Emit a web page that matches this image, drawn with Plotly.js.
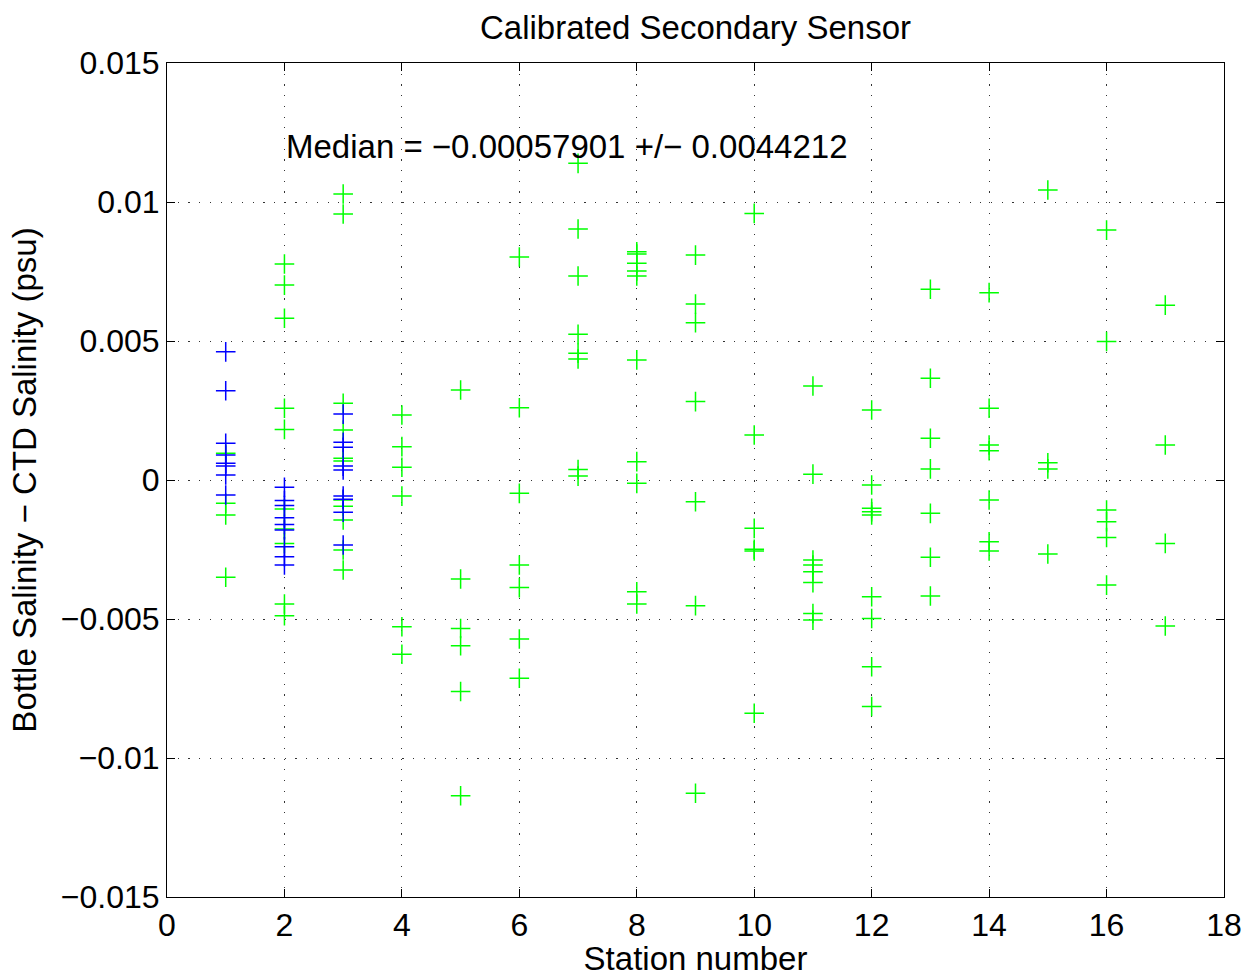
<!DOCTYPE html>
<html>
<head>
<meta charset="utf-8">
<script src="https://cdn.plot.ly/plotly-3.0.1.min.js"></script>
<style>html,body{margin:0;padding:0;background:#fff;}#chart{width:1255px;height:977px;}</style>
</head>
<body>
<div id="chart"></div>
<script>
// All bottles (green)
const greenStation = [
  1,1,1,1,
  2,2,2,2,2,2,2,2,2,2,
  3,3,3,3,3,3,3,3,3,3,3,
  4,4,4,4,4,4,
  5,5,5,5,5,5,
  6,6,6,6,6,6,6,
  7,7,7,7,7,7,7,7,
  8,8,8,8,8,8,8,8,8,8,
  9,9,9,9,9,9,9,
  10,10,10,10,10,10,
  11,11,11,11,11,11,11,11,
  12,12,12,12,12,12,12,12,12,
  13,13,13,13,13,13,13,
  14,14,14,14,14,14,14,
  15,15,15,15,
  16,16,16,16,16,16,
  17,17,17,17
];
const greenDiff = [
  0.00096,-0.00084,-0.00126,-0.0035,
  0.00777,0.00701,0.00582,0.00258,0.00182,-0.00104,-0.00176,-0.00228,-0.00446,-0.00488,
  0.01029,0.00957,0.00276,0.0018,0.00078,0.00068,-0.00072,-0.00094,-0.00144,-0.00252,-0.00324,
  0.00234,0.0012,0.00046,-0.00058,-0.00528,-0.00627,
  0.00324,-0.00356,-0.00534,-0.00596,-0.00761,-0.01136,
  0.00802,0.0026,-0.00048,-0.00306,-0.00387,-0.00572,-0.00713,
  0.01139,0.00903,0.00734,0.00524,0.00456,0.00435,0.00038,0.00014,
  0.00821,0.00813,0.0078,0.00752,0.00734,0.00432,0.00066,-0.00012,-0.00402,-0.00446,
  0.00809,0.00633,0.00566,0.00282,-0.00078,-0.00452,-0.01127,
  0.00959,0.00162,-0.00174,-0.00249,-0.00255,-0.00839,
  0.00338,0.00021,-0.00288,-0.00306,-0.0033,-0.00369,-0.0048,-0.00504,
  0.00252,-0.00018,-0.00102,-0.00114,-0.00126,-0.0042,-0.00498,-0.00672,-0.00815,
  0.00686,0.00366,0.0015,0.0004,-0.0012,-0.00278,-0.00417,
  0.00674,0.00258,0.00126,0.00105,-0.00072,-0.00222,-0.00255,
  0.01043,0.00062,0.0004,-0.00266,
  0.00899,0.00498,-0.00108,-0.0015,-0.00207,-0.00378,
  0.00629,0.00126,-0.00228,-0.00525
];
// Blue subset
const blueStation = [
  1,1,1,1,1,1,1,1,
  2,2,2,2,2,2,2,2,2,
  3,3,3,3,3,3,3,3,3
];
const blueDiff = [
  0.00461,0.00321,0.00132,0.0009,0.0006,0.0005,0.00018,-0.00054,
  -0.00026,-0.00074,-0.00092,-0.00136,-0.0016,-0.0018,-0.0024,-0.00276,-0.00306,
  0.00237,0.00136,0.00118,0.0005,0.00036,-0.00058,-0.00069,-0.00116,-0.00234
];
const xTickVals = [0,2,4,6,8,10,12,14,16,18];
const xTickText = ['0','2','4','6','8','10','12','14','16','18'];
const yTickVals = [-0.015,-0.01,-0.005,0,0.005,0.01,0.015];
const yTickText = ['\u22120.015','\u22120.01','\u22120.005','0','0.005','0.01','0.015'];
const titleText = 'Calibrated Secondary Sensor';
const xLabel = 'Station number';
const yLabel = 'Bottle Salinity \u2212 CTD Salinity (psu)';
const medianText = 'Median = \u22120.00057901 +/\u2212 0.0044212';

const FONT = 'Liberation Sans, Arial, Helvetica, sans-serif';

const traces = [
  {
    x: greenStation, y: greenDiff, type: 'scatter', mode: 'markers',
    marker: {symbol: 'cross-thin', size: 14, color: '#00ff00', line: {color: '#00ff00', width: 1.5}},
    hoverinfo: 'x+y', showlegend: false
  },
  {
    x: blueStation, y: blueDiff, type: 'scatter', mode: 'markers',
    marker: {symbol: 'cross-thin', size: 14, color: '#0000ff', line: {color: '#0000ff', width: 1.5}},
    hoverinfo: 'x+y', showlegend: false
  }
];

const axisCommon = {
  showline: true, linecolor: '#000', linewidth: 1, mirror: 'ticks',
  ticks: 'inside', ticklen: 8, tickcolor: '#000', tickwidth: 1,
  showgrid: true, gridcolor: '#333', griddash: '1.2px,9.5px', gridwidth: 1,
  zeroline: false, tickfont: {family: FONT, size: 32, color: '#000'}
};

const layout = {
  width: 1255, height: 977,
  margin: {l: 167, r: 31, t: 63, b: 80, pad: 0},
  paper_bgcolor: '#fff', plot_bgcolor: '#fff',
  font: {family: FONT, color: '#000'},
  title: {text: titleText, font: {family: FONT, size: 33, color: '#000'}, xref: 'paper', x: 0.5, xanchor: 'center', y: 0.972, yanchor: 'middle'},
  xaxis: Object.assign({}, axisCommon, {
    range: [0, 18], tickmode: 'array', tickvals: xTickVals, ticktext: xTickText,
    title: {text: xLabel, font: {family: FONT, size: 33, color: '#000'}, standoff: 2}
  }),
  yaxis: Object.assign({}, axisCommon, {
    range: [-0.015, 0.015], tickmode: 'array', tickvals: yTickVals, ticktext: yTickText,
    title: {text: yLabel, font: {family: FONT, size: 33, color: '#000'}, standoff: 14}
  }),
  annotations: [{
    text: medianText, xref: 'x', yref: 'y', x: 2.0, y: 0.01198,
    xanchor: 'left', yanchor: 'middle', showarrow: false,
    font: {family: FONT, size: 33, color: '#000'}
  }]
};

Plotly.newPlot('chart', traces, layout, {displayModeBar: false, staticPlot: true});
</script>
</body>
</html>
